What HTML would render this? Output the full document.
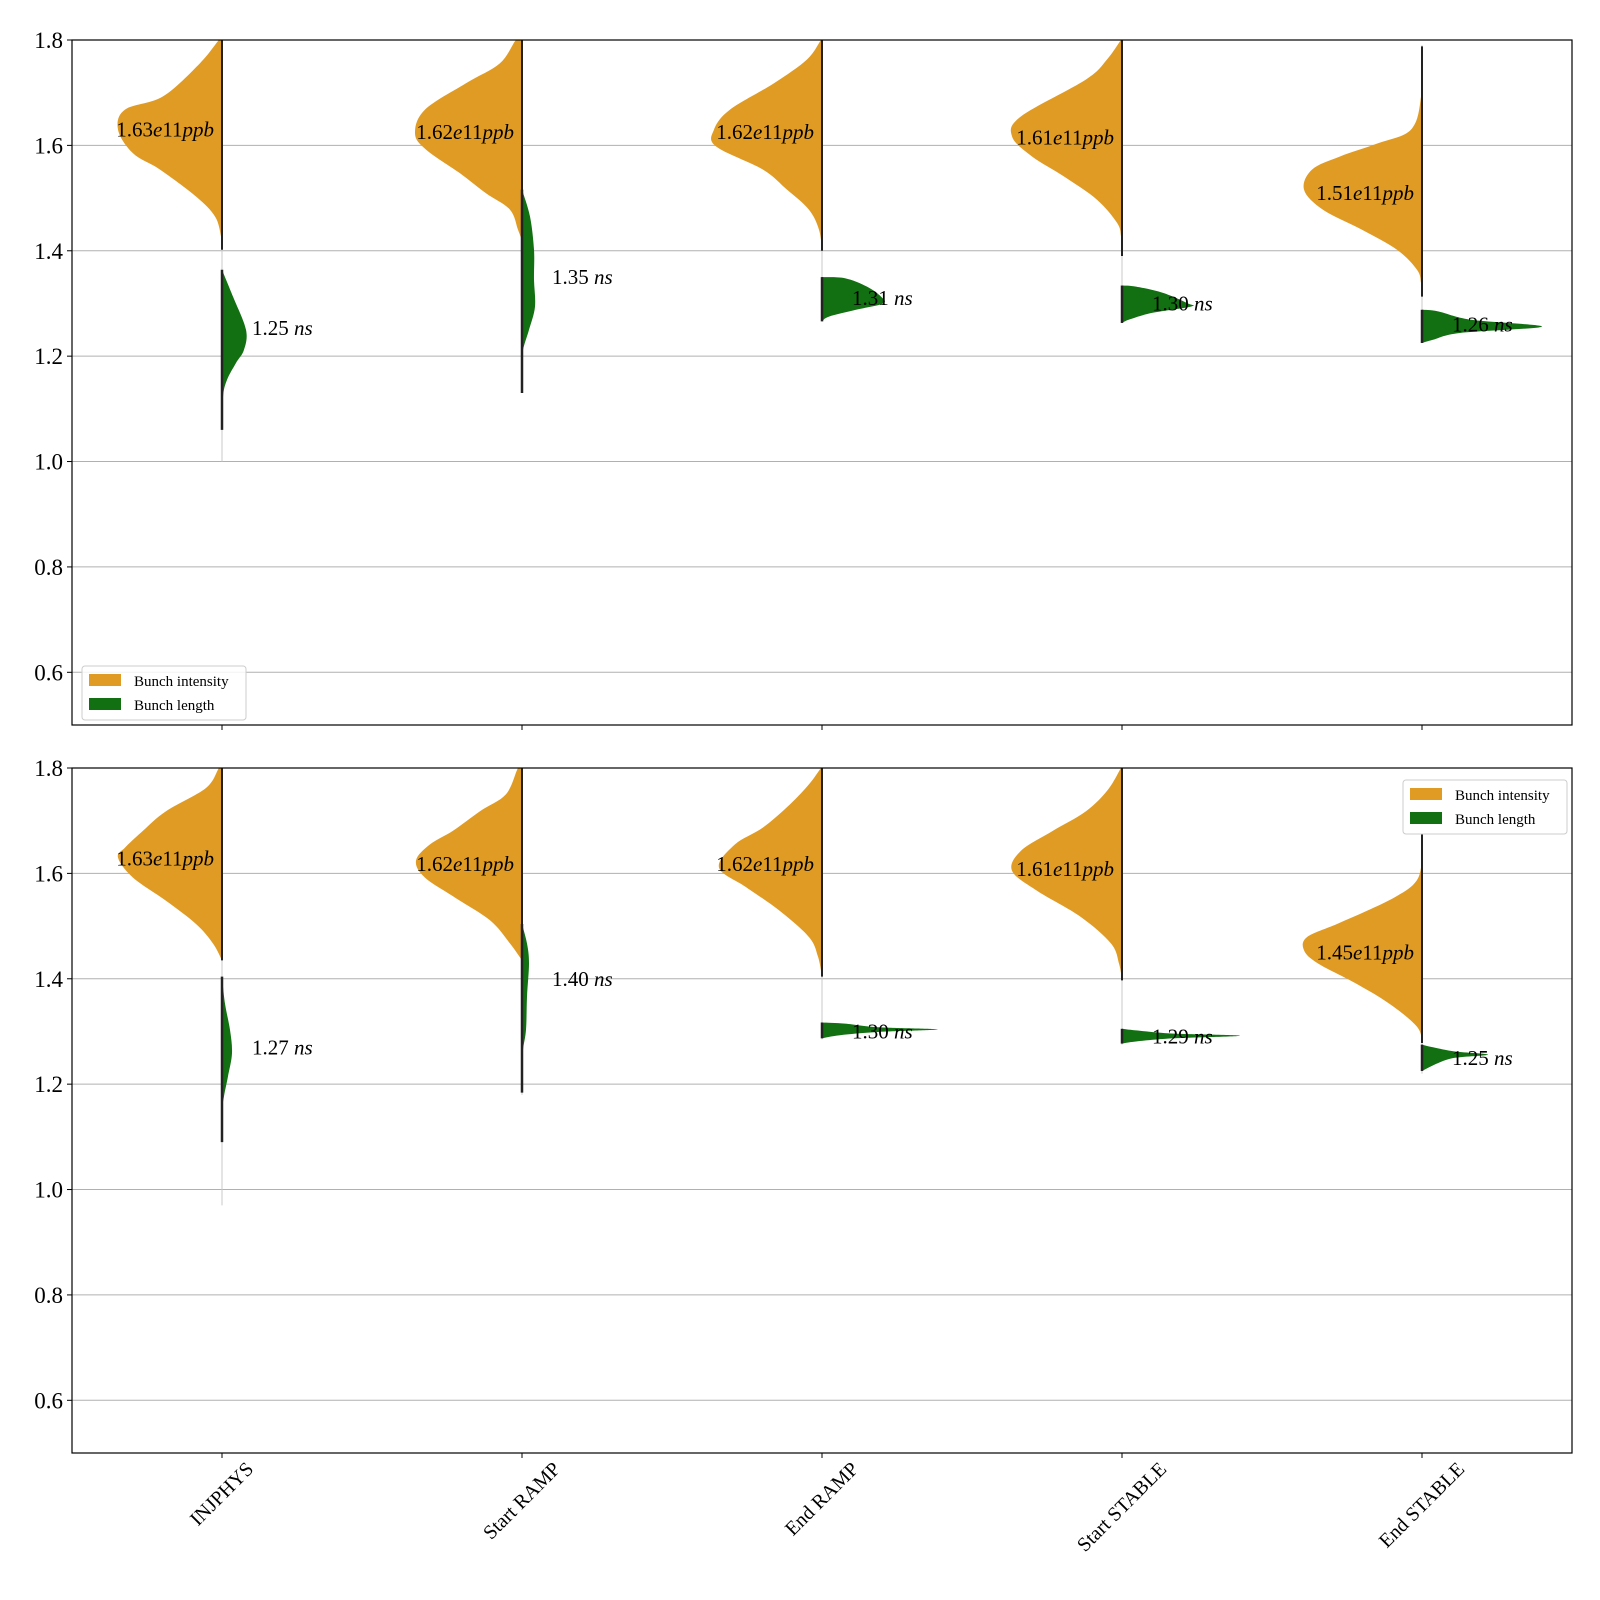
<!DOCTYPE html>
<html><head><meta charset="utf-8"><style>
html,body{margin:0;padding:0;background:#fff;}
svg{display:block;font-family:"Liberation Serif",serif;}
</style></head><body>
<svg id="chart" width="1600" height="1600" viewBox="0 0 1600 1600" xmlns="http://www.w3.org/2000/svg"></svg>
<script>
const categories = ["INJPHYS","Start RAMP","End RAMP","Start STABLE","End STABLE"];
const yTicks = [0.6,0.8,1.0,1.2,1.4,1.6,1.8];
const yTickLabels = ["0.6","0.8","1.0","1.2","1.4","1.6","1.8"];
// Densities: [value, half-width density] pairs
const topIntensity = [
 [[1.8,3],[1.756,22],[1.693,59],[1.668,97],[1.63,104],[1.585,89],[1.554,62],[1.503,26],[1.465,7],[1.427,1],[1.402,0]],
 [[1.8,6],[1.756,22],[1.718,56],[1.668,97],[1.623,107],[1.592,96],[1.547,62],[1.509,36],[1.478,12],[1.44,4],[1.42,0]],
 [[1.8,1],[1.763,15],[1.718,48],[1.668,92],[1.63,108],[1.598,106],[1.554,59],[1.516,35],[1.478,13],[1.44,3],[1.4,0]],
 [[1.8,1],[1.763,15],[1.725,36],[1.655,101],[1.617,110],[1.579,90],[1.541,58],[1.497,25],[1.453,5],[1.427,1],[1.39,0]],
 [[1.788,0],[1.693,1],[1.63,11],[1.604,44],[1.579,82],[1.554,110],[1.516,118],[1.478,99],[1.44,60],[1.402,25],[1.364,5],[1.339,1],[1.313,0]]
];
const topLength = [
 [[1.364,0],[1.313,11],[1.25,24],[1.212,22],[1.187,14],[1.155,5],[1.123,1],[1.06,0]],
 [[1.516,0],[1.465,8],[1.402,12],[1.345,12],[1.294,13],[1.25,7],[1.212,1],[1.187,0.5],[1.13,0]],
 [[1.35,0],[1.348,23],[1.332,45],[1.313,59],[1.3,61],[1.288,34],[1.275,7],[1.266,0]],
 [[1.334,0],[1.332,14],[1.32,41],[1.3,66],[1.294,69],[1.282,30],[1.27,8],[1.263,0]],
 [[1.288,0],[1.285,16],[1.269,49],[1.256,120],[1.244,38],[1.231,11],[1.225,0]]
];
const botIntensity = [
 [[1.8,3],[1.762,16],[1.718,56],[1.681,79],[1.649,97],[1.63,104],[1.592,89],[1.548,56],[1.504,26],[1.467,9],[1.435,0]],
 [[1.8,4],[1.75,16],[1.718,42],[1.681,69],[1.655,92],[1.624,106],[1.592,97],[1.553,66],[1.511,32],[1.467,12],[1.435,0]],
 [[1.8,1],[1.769,13],[1.731,32],[1.687,59],[1.655,87],[1.611,103],[1.574,76],[1.53,43],[1.479,13],[1.442,4],[1.404,0]],
 [[1.8,1],[1.759,14],[1.718,36],[1.681,69],[1.643,101],[1.605,110],[1.567,85],[1.517,41],[1.467,11],[1.429,3],[1.397,0]],
 [[1.674,0],[1.611,1],[1.58,8],[1.555,27],[1.529,55],[1.504,85],[1.479,115],[1.454,118],[1.429,104],[1.391,66],[1.353,33],[1.309,5],[1.278,0]]
];
const botLength = [
 [[1.404,0],[1.353,3],[1.303,8],[1.259,10],[1.215,6],[1.177,2],[1.152,0.5],[1.09,0]],
 [[1.504,0],[1.467,5],[1.429,7],[1.366,5],[1.303,4],[1.265,1],[1.228,0.5],[1.184,0]],
 [[1.317,0],[1.315,23],[1.308,56],[1.304,116],[1.299,56],[1.293,18],[1.287,0]],
 [[1.305,0],[1.302,14],[1.296,52],[1.292,118],[1.287,52],[1.281,14],[1.277,0]],
 [[1.275,0],[1.27,11],[1.262,33],[1.256,66],[1.25,33],[1.24,16],[1.225,0]]
];
const topRange = [[1.0,1.8],[1.13,1.8],[1.27,1.8],[1.265,1.8],[1.225,1.79]];
const botRange = [[0.97,1.8],[1.18,1.8],[1.285,1.8],[1.275,1.8],[1.22,1.675]];
const topIntMeans = [1.63,1.625,1.625,1.615,1.51];
const topIntLabels = ["1.63","1.62","1.62","1.61","1.51"];
const topLenMeans = [1.253,1.35,1.31,1.30,1.26];
const topLenLabels = ["1.25","1.35","1.31","1.30","1.26"];
const botIntMeans = [1.628,1.618,1.618,1.608,1.45];
const botIntLabels = ["1.63","1.62","1.62","1.61","1.45"];
const botLenMeans = [1.27,1.40,1.30,1.29,1.25];
const botLenLabels = ["1.27","1.40","1.30","1.29","1.25"];

const NS="http://www.w3.org/2000/svg";
const svg=document.getElementById('chart');
function mk(tag,attrs,parent){const e=document.createElementNS(NS,tag);for(const k in attrs)e.setAttribute(k,attrs[k]);(parent||svg).appendChild(e);return e;}
const L=72,R=1572,YMIN=0.5,YMAX=1.8;
const ORANGE="#e09b24",GREEN="#127012";
function xScale(i){return L+(R-L)/categories.length*(i+0.5);}
function smoothPath(pts){
  let d="M"+pts[0][0]+","+pts[0][1];
  for(let i=0;i<pts.length-1;i++){
    const p0=pts[Math.max(0,i-1)],p1=pts[i],p2=pts[i+1],p3=pts[Math.min(pts.length-1,i+2)];
    const c1=[p1[0]+(p2[0]-p0[0])/6,p1[1]+(p2[1]-p0[1])/6];
    const c2=[p2[0]-(p3[0]-p1[0])/6,p2[1]-(p3[1]-p1[1])/6];
    d+=" C"+c1[0].toFixed(1)+","+c1[1].toFixed(1)+" "+c2[0].toFixed(1)+","+c2[1].toFixed(1)+" "+p2[0].toFixed(1)+","+p2[1].toFixed(1);
  }
  return d;
}
function panel(top,bot,intens,lens,ranges,iM,iL,lM,lL,legendPos,pid){
  const g=mk('g',{});
  
  
  const yS=v=>bot-(v-YMIN)/(YMAX-YMIN)*(bot-top);
  const cp=mk('clipPath',{id:'clip'+pid},g);
  mk('rect',{x:L,y:top,width:R-L,height:bot-top},cp);
  yTicks.forEach((t,k)=>{
    const y=yS(t);
    const gl=mk('line',{x1:L,x2:R,y1:y,y2:y,stroke:'#b0b0b0','stroke-width':1},g);
    
    
    mk('line',{x1:L-5,x2:L,y1:y,y2:y,stroke:'#000','stroke-width':1},g);
    const tl=mk('text',{x:L-9,y:y+8,'text-anchor':'end','font-size':23},g);
    tl.textContent=yTickLabels[k];
    
    
  });
  const vg=mk('g',{'clip-path':'url(#clip'+pid+')'},g);
  categories.forEach((c,i)=>{
    const cx=xScale(i);
    mk('line',{x1:cx,x2:cx,y1:yS(ranges[i][0]),y2:yS(ranges[i][1]),stroke:'#c8c8c8','stroke-width':1},vg);
    const ip=intens[i].map(p=>[cx-p[1],yS(p[0])]);
    ip.unshift([cx,yS(intens[i][0][0])]);ip.push([cx,yS(intens[i][intens[i].length-1][0])]);
    const pi=mk('path',{d:smoothPath(ip)+" Z",fill:ORANGE},vg);
    
    
    const lp=lens[i].map(p=>[cx+p[1],yS(p[0])]);
    lp.unshift([cx,yS(lens[i][0][0])]);lp.push([cx,yS(lens[i][lens[i].length-1][0])]);
    const pl=mk('path',{d:smoothPath(lp)+" Z",fill:GREEN},vg);
    
    
    const a=intens[i],b=lens[i];
    mk('line',{x1:cx,x2:cx,y1:yS(a[0][0]),y2:yS(a[a.length-1][0]),stroke:'#222','stroke-width':2},vg);
    mk('line',{x1:cx,x2:cx,y1:yS(b[0][0]),y2:yS(b[b.length-1][0]),stroke:'#222','stroke-width':2.5},vg);
    const t1=mk('text',{x:cx-8,y:yS(iM[i])+7,'text-anchor':'end','font-size':21},g);
    t1.innerHTML=iL[i]+'<tspan font-style="italic">e</tspan>11<tspan font-style="italic">ppb</tspan>';
    
    
    const t2=mk('text',{x:cx+30,y:yS(lM[i])+7,'font-size':21},g);
    t2.innerHTML=lL[i]+' <tspan font-style="italic">ns</tspan>';
    
    
    mk('line',{x1:cx,x2:cx,y1:bot,y2:bot+5,stroke:'#000','stroke-width':1},g);
  });
  const fr=mk('rect',{x:L,y:top,width:R-L,height:bot-top,fill:'none',stroke:'#000','stroke-width':1.2},g);
  
  
  // legend
  const lg=mk('g',{},g);
  
  
  const [lx,ly]=legendPos;
  mk('rect',{x:lx,y:ly,width:164,height:54,rx:3,fill:'#fff','fill-opacity':0.85,stroke:'#ccc'},lg);
  [["Bunch intensity",ORANGE],["Bunch length",GREEN]].forEach((e,k)=>{
    const sw=mk('rect',{x:lx+7,y:ly+8+k*24,width:32,height:12,fill:e[1]},lg);
    
    
    const tt=mk('text',{x:lx+52,y:ly+20+k*24,'font-size':15},lg);
    tt.textContent=e[0];
    
    
  });
}
panel(40,725,topIntensity,topLength,topRange,topIntMeans,topIntLabels,topLenMeans,topLenLabels,[82,666],'top-panel');
panel(768,1453,botIntensity,botLength,botRange,botIntMeans,botIntLabels,botLenMeans,botLenLabels,[1403,780],'bottom-panel');
categories.forEach((c,i)=>{
  const cx=xScale(i);
  const t=mk('text',{'font-size':20,'text-anchor':'middle'});
  t.textContent=c;
  
  
  const w=t.getComputedTextLength?t.getComputedTextLength():c.length*11;
  const half=(w+14)*0.7071/2;
  const cy=1453+8+half;
  t.setAttribute('x',cx);t.setAttribute('y',cy+6);
  t.setAttribute('transform','rotate(-45 '+cx+' '+cy+')');
});
</script>
</body></html>
